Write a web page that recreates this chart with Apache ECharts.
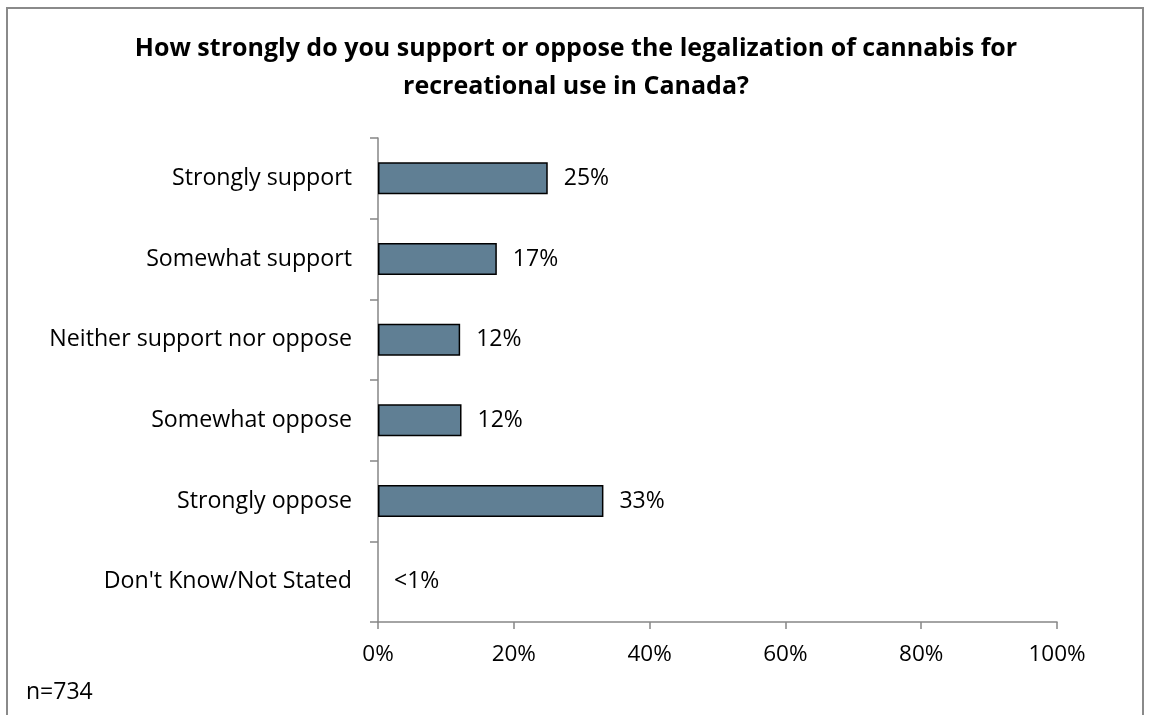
<!DOCTYPE html>
<html>
<head>
<meta charset="utf-8">
<script src="https://cdn.jsdelivr.net/npm/echarts@6/dist/echarts.min.js"></script>
<style>
  html, body { margin: 0; padding: 0; background: #ffffff; }
  #chart { width: 1152px; height: 715px; }
</style>
</head>
<body>
<div id="chart"></div>
<script>
// Survey responses, listed top to bottom
const categories = [
  'Strongly support',
  'Somewhat support',
  'Neither support nor oppose',
  'Somewhat oppose',
  'Strongly oppose',
  "Don't Know/Not Stated"
];
const shares = [25, 17.5, 12.1, 12.3, 33.2, 0];
const shareLabels = ['25%', '17%', '12%', '12%', '33%', '<1%'];
const xTicks = [0, 20, 40, 60, 80, 100];

const FONT = '"Open Sans", "Noto Sans", sans-serif';
const chart = echarts.init(document.getElementById('chart'));

// A zero-width bar gets no outline so only its label shows
const barData = shares.map(v => (v > 0 ? v : { value: v, itemStyle: { borderWidth: 0 } }));

chart.setOption({
  animation: false,
  backgroundColor: '#ffffff',
  graphic: [
    {
      type: 'rect',
      shape: { x: 7, y: 8, width: 1136, height: 730 },
      style: { fill: 'none', stroke: '#8a8a8a', lineWidth: 2 }
    },
    {
      type: 'text',
      left: 26, top: 681,
      style: { text: 'n=734', font: '23px ' + FONT, fill: '#000000' }
    }
  ],
  title: {
    text: 'How strongly do you support or oppose the legalization of cannabis for\nrecreational use in Canada?',
    left: 'center',
    top: 25,
    textStyle: { fontFamily: FONT, fontWeight: 'bold', fontSize: 25, color: '#000000', lineHeight: 38 }
  },
  grid: { left: 378, right: 95, top: 138, bottom: 93, containLabel: false },
  xAxis: {
    type: 'value',
    min: 0, max: 100, interval: 20,
    splitLine: { show: false },
    axisLine: { show: true, lineStyle: { color: '#868686', width: 1.5 } },
    axisTick: { show: true, length: 7, lineStyle: { color: '#868686', width: 1.5 } },
    axisLabel: {
      margin: 21,
      fontFamily: FONT, fontSize: 22.5, color: '#000000',
      formatter: v => (xTicks.indexOf(v) >= 0 ? v + '%' : '')
    }
  },
  yAxis: {
    type: 'category',
    inverse: true,
    data: categories,
    axisLine: { show: true, lineStyle: { color: '#868686', width: 1.5 } },
    axisTick: { show: true, length: 8, lineStyle: { color: '#868686', width: 1.5 } },
    axisLabel: { margin: 26, fontFamily: FONT, fontSize: 23.2, color: '#000000' }
  },
  series: [{
    type: 'bar',
    data: barData,
    barWidth: 32,
    itemStyle: { color: '#607f94', borderColor: '#000000', borderWidth: 1.5 },
    label: {
      show: true,
      position: 'right',
      distance: 16,
      fontFamily: FONT, fontSize: 23, color: '#000000',
      formatter: p => shareLabels[p.dataIndex]
    }
  }]
});
</script>
</body>
</html>
